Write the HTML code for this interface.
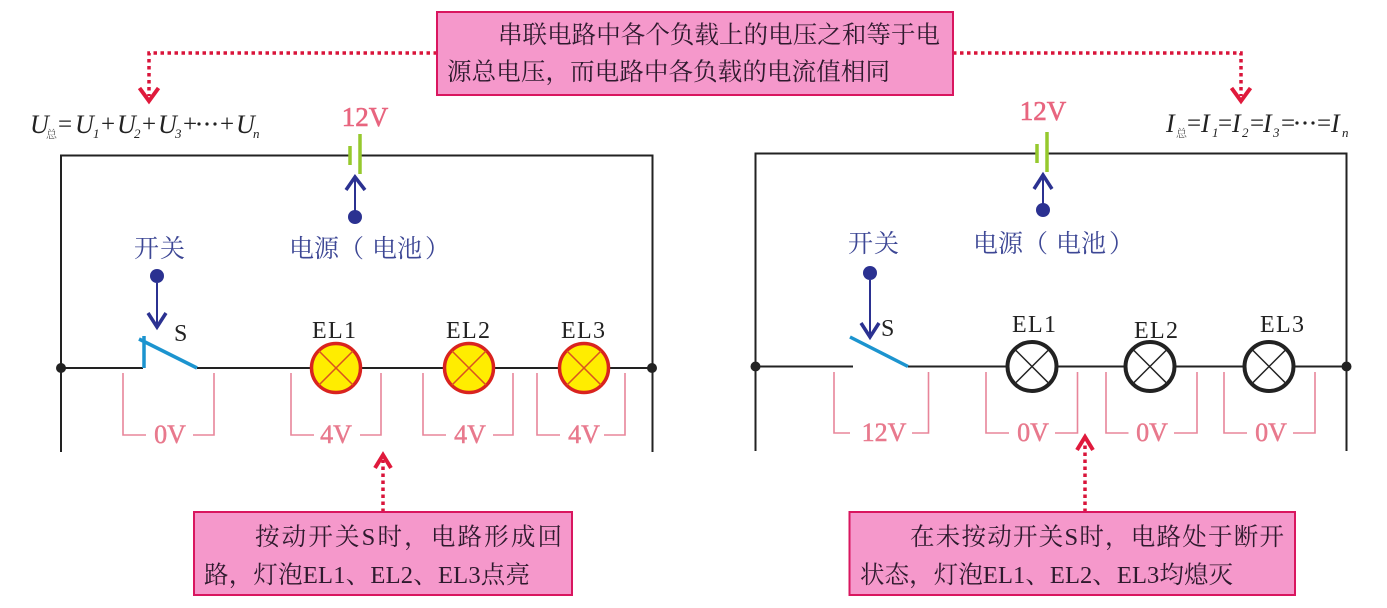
<!DOCTYPE html>
<html lang="zh">
<head>
<meta charset="utf-8">
<style>
html,body{margin:0;padding:0;background:#fff;width:1387px;height:608px;overflow:hidden}
svg{display:block}
text{font-family:"Liberation Serif","Noto Serif CJK SC",serif}
.cn{font-family:"Noto Serif CJK SC","Liberation Serif",serif;font-size:24.5px;fill:#2e1a2e}
.mix{font-family:"Liberation Serif","Noto Serif CJK SC",serif;font-size:24.5px;fill:#2e1a2e}
.blue{font-family:"Noto Serif CJK SC",serif;font-size:25px;fill:#3d4795}
.v{font-size:26px;fill:#e8798d;text-anchor:middle;stroke:#e8798d;stroke-width:.5}
.v12{font-size:27px;fill:#e8657f;text-anchor:middle;stroke:#e8657f;stroke-width:.6}
.el{font-size:24px;fill:#222}
.f{font-style:italic;font-size:26px;fill:#222}
.p{font-size:25px;fill:#222}
.s{font-style:italic;font-size:13px;fill:#222}
.z{font-family:"Noto Serif CJK SC",serif;font-size:11px;fill:#555}
.w{fill:none;stroke:#222;stroke-width:2}
.br{fill:none;stroke:#e8859a;stroke-width:1.6}
.dot{fill:none;stroke:#d9143a;stroke-width:3.5;stroke-dasharray:3.5 3.5}
.rh{fill:none;stroke:#e01a3c;stroke-width:4}
.bl{fill:none;stroke:#2b3191;stroke-width:2}
.blh{fill:none;stroke:#2b3191;stroke-width:3.5}
.box{fill:#f598cb;stroke:#d9165f;stroke-width:2}
.gr{stroke:#96c92d;stroke-width:3.5}
.sw{fill:none;stroke:#1c94cf;stroke-width:3.5}
.lx{stroke:#d9531f;stroke-width:1.5}
.kx{stroke:#222;stroke-width:1.5}
</style>
</head>
<body>
<svg width="1387" height="608" viewBox="0 0 1387 608" xmlns="http://www.w3.org/2000/svg">

<!-- top dotted connectors -->
<path class="dot" d="M437 53H149V96"/>
<path class="rh" d="M139.500 88L149 101L158.500 88"/>
<path class="dot" d="M953 53H1241V96"/>
<path class="rh" d="M1231.500 88L1241 101L1250.500 88"/>

<!-- top box -->
<rect class="box" x="437" y="12" width="516" height="83"/>
<text class="cn" x="498" y="43" textLength="442" lengthAdjust="spacing">串联电路中各个负载上的电压之和等于电</text>
<text class="cn" x="447" y="80" textLength="443" lengthAdjust="spacing">源总电压，而电路中各负载的电流值相同</text>

<!-- left formula -->
<text class="f" x="30" y="133">U</text><text class="z" x="46" y="138">总</text>
<text class="p" x="58" y="132">=</text>
<text class="f" x="75" y="133">U</text><text class="s" x="93" y="138">1</text>
<text class="p" x="101" y="132">+</text>
<text class="f" x="117" y="133">U</text><text class="s" x="134" y="138">2</text>
<text class="p" x="142" y="132">+</text>
<text class="f" x="158" y="133">U</text><text class="s" x="175" y="138">3</text>
<text class="p" x="183" y="132">+</text>
<circle cx="199" cy="124" r="1.6" fill="#222"/><circle cx="207" cy="124" r="1.6" fill="#222"/><circle cx="215" cy="124" r="1.6" fill="#222"/>
<text class="p" x="220" y="132">+</text>
<text class="f" x="236" y="133">U</text><text class="s" x="253" y="138">n</text>

<!-- right formula -->
<text class="f" x="1166" y="132">I</text><text class="z" x="1176" y="137">总</text>
<text class="p" x="1187" y="131">=</text>
<text class="f" x="1201" y="132">I</text><text class="s" x="1212" y="137">1</text>
<text class="p" x="1218" y="131">=</text>
<text class="f" x="1232" y="132">I</text><text class="s" x="1242" y="137">2</text>
<text class="p" x="1250" y="131">=</text>
<text class="f" x="1263" y="132">I</text><text class="s" x="1273" y="137">3</text>
<text class="p" x="1281" y="131">=</text>
<circle cx="1297" cy="123" r="1.6" fill="#222"/><circle cx="1305" cy="123" r="1.6" fill="#222"/><circle cx="1313" cy="123" r="1.6" fill="#222"/>
<text class="p" x="1317" y="131">=</text>
<text class="f" x="1331" y="132">I</text><text class="s" x="1342" y="137">n</text>

<!-- LEFT CIRCUIT -->
<path class="w" d="M61 452V155.5H350M360 155.5H652.5V452"/>
<path class="w" d="M61 368H143M197 368H652"/>
<circle cx="61" cy="368" r="5" fill="#222"/>
<circle cx="652" cy="368" r="5" fill="#222"/>
<line class="gr" x1="350" y1="146" x2="350" y2="165"/>
<line class="gr" x1="360" y1="134" x2="360" y2="174"/>
<text class="v12" x="365" y="126">12V</text>

<path class="bl" d="M355 178V217"/>
<path class="blh" d="M346 190L355 177L365 190"/>
<circle cx="355" cy="217" r="7" fill="#2b3191"/>
<text class="blue" y="257"><tspan x="289">电源</tspan><tspan x="339">（</tspan><tspan x="372">电池</tspan><tspan x="425">）</tspan></text>

<text class="blue" x="134" y="257" textLength="51" lengthAdjust="spacing">开关</text>
<circle cx="157" cy="276" r="7" fill="#2b3191"/>
<path class="bl" d="M157 283V326"/>
<path class="blh" d="M148 313L157 327L166 313"/>

<path class="sw" d="M144 368V336M139 339L197 368"/>
<text class="el" x="174" y="341">S</text>

<g>
<circle cx="336" cy="368" r="24.5" fill="#ffed00" stroke="#d9231f" stroke-width="3.5"/>
<path class="lx" d="M319 351L353 385M353 351L319 385"/>
<circle cx="469" cy="368" r="24.5" fill="#ffed00" stroke="#d9231f" stroke-width="3.5"/>
<path class="lx" d="M452 351L486 385M486 351L452 385"/>
<circle cx="584" cy="368" r="24.5" fill="#ffed00" stroke="#d9231f" stroke-width="3.5"/>
<path class="lx" d="M567 351L601 385M601 351L567 385"/>
</g>
<text class="el" x="312" y="338" textLength="44" lengthAdjust="spacing">EL1</text>
<text class="el" x="446" y="338" textLength="44" lengthAdjust="spacing">EL2</text>
<text class="el" x="561" y="338" textLength="44" lengthAdjust="spacing">EL3</text>

<path class="br" d="M123 373V435H146M193 435H214V373"/>
<path class="br" d="M291 373V435H314M360 435H381V373"/>
<path class="br" d="M423 373V435H446M493 435H513V373"/>
<path class="br" d="M537 373V435H560M604 435H625V373"/>
<text class="v" x="170" y="443">0V</text>
<text class="v" x="336" y="443">4V</text>
<text class="v" x="470" y="443">4V</text>
<text class="v" x="584" y="443">4V</text>

<path class="dot" d="M383 512V460"/>
<path class="rh" d="M375 468L383 455L391 468"/>
<rect class="box" x="194" y="512" width="378" height="83"/>
<text class="mix" x="255" y="545" textLength="307" lengthAdjust="spacing">按动开关S时，电路形成回</text>
<text class="mix" x="204" y="583" textLength="326" lengthAdjust="spacing">路，灯泡EL1、EL2、EL3点亮</text>

<!-- RIGHT CIRCUIT -->
<path class="w" d="M755.5 451V153.5H1037M1047 153.5H1346.5V451"/>
<path class="w" d="M755 366.5H853M908 366.5H1346"/>
<circle cx="755.5" cy="366.5" r="5" fill="#222"/>
<circle cx="1346.5" cy="366.5" r="5" fill="#222"/>
<line class="gr" x1="1037" y1="144" x2="1037" y2="163"/>
<line class="gr" x1="1047" y1="132" x2="1047" y2="172"/>
<text class="v12" x="1043" y="120">12V</text>

<path class="bl" d="M1043 176V210"/>
<path class="blh" d="M1034 189L1043 175L1052 189"/>
<circle cx="1043" cy="210" r="7" fill="#2b3191"/>
<text class="blue" y="252"><tspan x="973">电源</tspan><tspan x="1023">（</tspan><tspan x="1056">电池</tspan><tspan x="1109">）</tspan></text>

<text class="blue" x="848" y="252" textLength="51" lengthAdjust="spacing">开关</text>
<circle cx="870" cy="273" r="7" fill="#2b3191"/>
<path class="bl" d="M870 280V337"/>
<path class="blh" d="M861 323L870 337L879 323"/>

<path class="sw" d="M850 337L908 366.5"/>
<text class="el" x="881" y="336">S</text>

<g>
<circle cx="1032" cy="366.5" r="24.5" fill="#fff" stroke="#222" stroke-width="4"/>
<path class="kx" d="M1015 349.500L1049 383.500M1049 349.500L1015 383.500"/>
<circle cx="1150" cy="366.5" r="24.5" fill="#fff" stroke="#222" stroke-width="4"/>
<path class="kx" d="M1133 349.500L1167 383.500M1167 349.500L1133 383.500"/>
<circle cx="1269" cy="366.5" r="24.5" fill="#fff" stroke="#222" stroke-width="4"/>
<path class="kx" d="M1252 349.500L1286 383.500M1286 349.500L1252 383.500"/>
</g>
<text class="el" x="1012" y="332" textLength="44" lengthAdjust="spacing">EL1</text>
<text class="el" x="1134" y="338" textLength="44" lengthAdjust="spacing">EL2</text>
<text class="el" x="1260" y="332" textLength="44" lengthAdjust="spacing">EL3</text>

<path class="br" d="M834 372V433H850M912 433H928.500V372"/>
<path class="br" d="M986 372V433H1009M1055 433H1077.500V372"/>
<path class="br" d="M1106 372V433H1128.500M1174 433H1197V372"/>
<path class="br" d="M1224 372V433H1247M1293 433H1315V372"/>
<text class="v" x="884" y="441">12V</text>
<text class="v" x="1033" y="441">0V</text>
<text class="v" x="1152" y="441">0V</text>
<text class="v" x="1271" y="441">0V</text>

<path class="dot" d="M1085 512V442"/>
<path class="rh" d="M1077 450L1085 437L1093 450"/>
<rect class="box" x="849.500" y="512" width="445.500" height="83"/>
<text class="mix" x="910" y="545" textLength="374" lengthAdjust="spacing">在未按动开关S时，电路处于断开</text>
<text class="mix" x="860" y="583" textLength="373" lengthAdjust="spacing">状态，灯泡EL1、EL2、EL3均熄灭</text>

</svg>
</body>
</html>
